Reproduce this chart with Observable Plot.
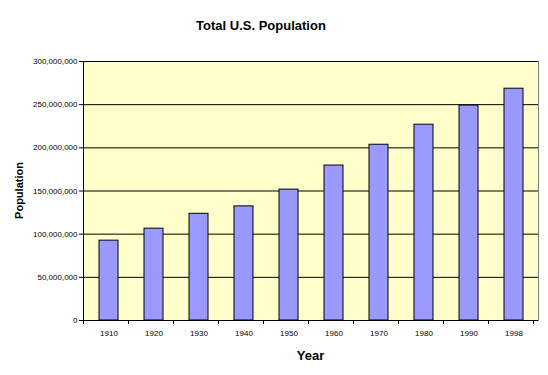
<!DOCTYPE html>
<html>
<head>
<meta charset="utf-8">
<script src="https://cdn.jsdelivr.net/npm/d3@7"></script>
<script src="https://cdn.jsdelivr.net/npm/@observablehq/plot@0.6"></script>
<style>
  html, body { margin: 0; padding: 0; background: #ffffff; }
  #chart svg { display: block; }
</style>
</head>
<body>
<div id="chart"></div>
<script>
const title = "Total U.S. Population";
const xLabel = "Year";
const yLabel = "Population";
const years = ["1910", "1920", "1930", "1940", "1950", "1960", "1970", "1980", "1990", "1998"];
const population = [92.5e6, 106.4e6, 123.6e6, 132.2e6, 151.6e6, 179.5e6, 203.6e6, 226.8e6, 249.0e6, 268.5e6];
const yTicks = [0, 50e6, 100e6, 150e6, 200e6, 250e6, 300e6];

const data = years.map((year, i) => ({year, population: population[i]}));

const plot = Plot.plot({
  width: 548,
  height: 375,
  marginLeft: 83,
  marginRight: 10,
  marginTop: 61,
  marginBottom: 55,
  style: {fontFamily: "Arial, 'Liberation Sans', sans-serif", background: "#ffffff", color: "#000"},
  x: {domain: years, paddingInner: 0.58, paddingOuter: 0.29, label: null},
  y: {domain: [0, 300e6], label: null},
  marks: [
    Plot.frame({fill: "#FFFFCC", stroke: "#808080"}),
    Plot.gridY(yTicks, {stroke: "#000", strokeOpacity: 1, strokeWidth: 1}),
    Plot.barY(data, {x: "year", y: "population", fill: "#9999FF", stroke: "#000", strokeWidth: 1}),
    Plot.axisY(yTicks, {tickSize: 4, tickPadding: 2, tickFormat: d3.format(","), fontSize: 8, label: null}),
    Plot.axisX({tickSize: 0, tickPadding: 10, fontSize: 8, label: null})
  ]
});

const svg = d3.select(plot);
const sx = plot.scale("x");
const sy = plot.scale("y");
const [x0, x1] = sx.range;
const [yb, yt] = sy.range;
const step = sx.step;

// axis lines (left and bottom), black
svg.append("line").attr("x1", x0).attr("x2", x0).attr("y1", yb).attr("y2", yt)
  .attr("stroke", "#000").attr("shape-rendering", "crispEdges");
svg.append("line").attr("x1", x0).attr("x2", x1).attr("y1", yb).attr("y2", yb)
  .attr("stroke", "#000").attr("shape-rendering", "crispEdges");
// x ticks at category boundaries
for (let k = 0; k <= years.length; k++) {
  const xx = Math.round(x0 + k * step) + 0.5;
  svg.append("line").attr("x1", xx).attr("x2", xx).attr("y1", yb).attr("y2", yb + 4)
    .attr("stroke", "#000");
}

// title and axis labels
svg.append("text").text(title)
  .attr("x", 261).attr("y", 30)
  .attr("text-anchor", "middle").attr("font-weight", "bold").attr("font-size", 13)
  .attr("font-family", "Arial, 'Liberation Sans', sans-serif");
svg.append("text").text(xLabel)
  .attr("x", (x0 + x1) / 2).attr("y", 360)
  .attr("text-anchor", "middle").attr("font-weight", "bold").attr("font-size", 13)
  .attr("font-family", "Arial, 'Liberation Sans', sans-serif");
svg.append("text").text(yLabel)
  .attr("transform", `translate(23,${(yb + yt) / 2}) rotate(-90)`)
  .attr("text-anchor", "middle").attr("font-weight", "bold").attr("font-size", 11)
  .attr("font-family", "Arial, 'Liberation Sans', sans-serif");

document.getElementById("chart").appendChild(plot);
</script>
</body>
</html>
